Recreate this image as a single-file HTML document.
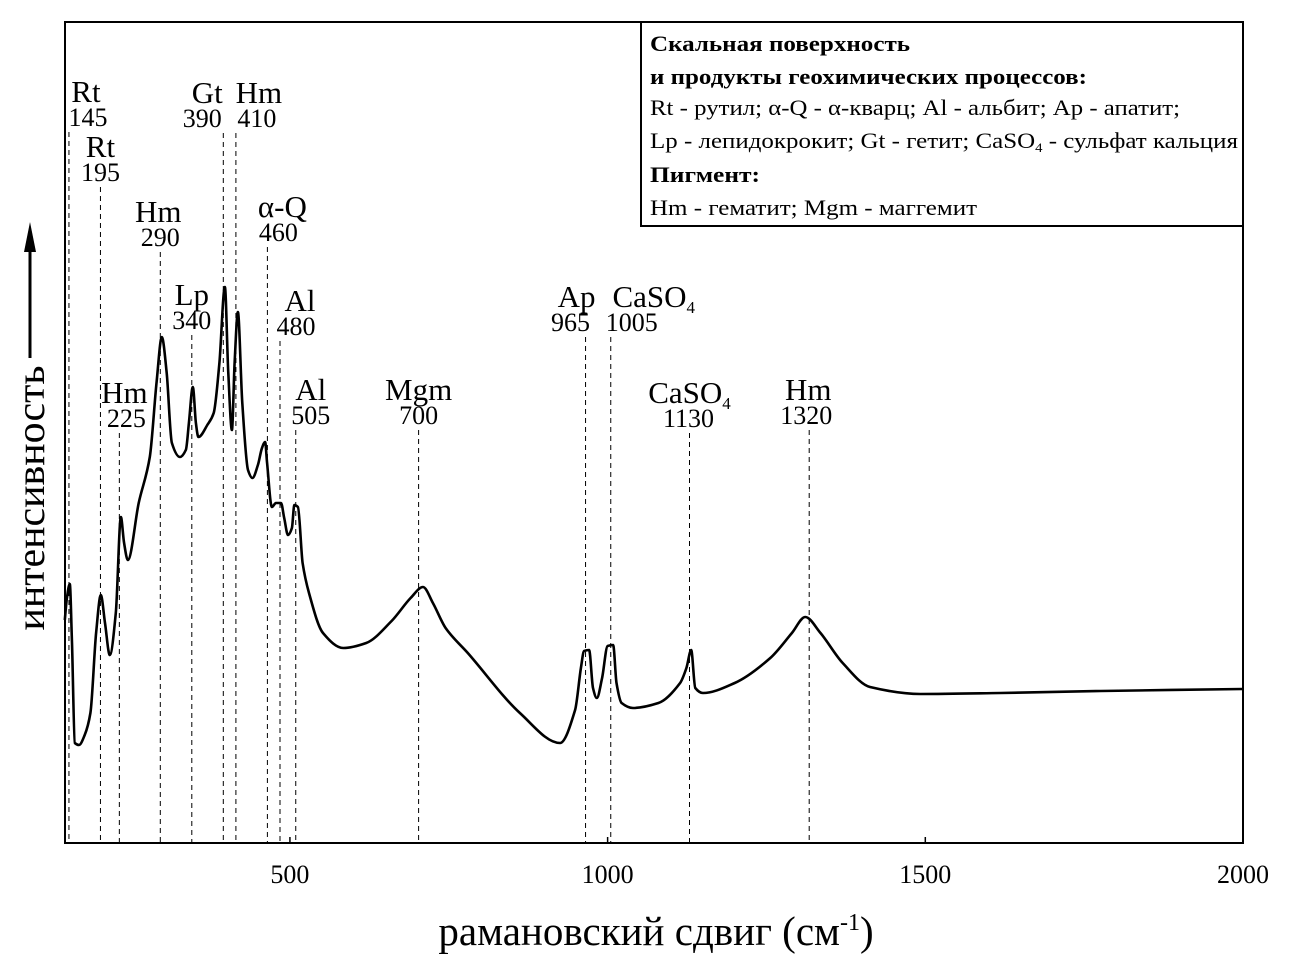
<!DOCTYPE html>
<html><head><meta charset="utf-8"><style>
html,body{margin:0;padding:0;background:#fff;}
svg{display:block;font-family:"Liberation Serif","DejaVu Serif",serif;}
</style></head><body>
<svg id="chart" width="1289" height="972" viewBox="0 0 1289 972">
<g id="labels"></g>
<g id="dashes"></g>
<path id="curve" fill="none" stroke="#000" stroke-width="2.6" stroke-linejoin="round"/>
<rect x="65" y="22" width="1178" height="821" fill="none" stroke="#000" stroke-width="2"/>
<g id="xticks"></g>
<text x="656" y="945" font-size="41" text-anchor="middle">рамановский сдвиг (см<tspan font-size="24" dy="-15">-1</tspan><tspan dy="15">)</tspan></text>
<g>
<text transform="translate(44,498) rotate(-90)" font-size="40" text-anchor="middle" textLength="265" lengthAdjust="spacingAndGlyphs">интенсивность</text>
<line x1="30" y1="358" x2="30" y2="250" stroke="#000" stroke-width="3"/>
<polygon points="30,222 24,252 36,252" fill="#000"/>
</g>
<g>
<rect x="641" y="22" width="602" height="204" fill="#fff" stroke="#000" stroke-width="2"/>
<text x="650" y="51" font-size="22" font-weight="bold" textLength="260" lengthAdjust="spacingAndGlyphs">Скальная поверхность</text>
<text x="650" y="84" font-size="22" font-weight="bold" textLength="437" lengthAdjust="spacingAndGlyphs">и продукты геохимических процессов:</text>
<text x="650" y="115" font-size="22" textLength="530" lengthAdjust="spacingAndGlyphs">Rt - рутил; α-Q - α-кварц; Al - альбит; Ap - апатит;</text>
<text x="650" y="148" font-size="22" textLength="588" lengthAdjust="spacingAndGlyphs">Lp - лепидокрокит; Gt - гетит; CaSO<tspan font-size="13" dy="4">4</tspan><tspan dy="-4"> - сульфат кальция</tspan></text>
<text x="650" y="182" font-size="22" font-weight="bold" textLength="110" lengthAdjust="spacingAndGlyphs">Пигмент:</text>
<text x="650" y="215" font-size="22" textLength="327" lengthAdjust="spacingAndGlyphs">Hm - гематит; Mgm - маггемит</text>
</g>
</svg>
<script>
const shifts=[145.7,149,153.5,157,161.4,168,177,186,195,202.4,209,216.5,226,233.9,239,244.9,262,279.5,290,298.4,306,314.2,326.8,336.2,341,347.2,352,356,370,380,389,397.6,403,408.7,413,418.1,425,434,441,449.6,456,461,464,471.7,478,486,491,497,503.1,507,512.6,520,530,552,584,620,660,690,709.4,725,745,780,862,925,948.8,958,963,970.9,977,983,991.3,1000,1008.7,1014,1022,1040,1080,1114,1124,1131.5,1138,1150,1200,1256,1290,1311,1335,1370,1413,1492,1618,1776,2000];
const intensity=[223,245,259,200,100,98,108,130,210,248,220,188,230,326,300,283,340,386,460,506,470,400,386,393,420,456,420,406,418,430,480,556,470,413,480,531,440,373,365,378,395,401,380,336,340,340,325,308,315,338,336,280,250,210,195,200,222,245,256,240,215,190,130,100,133,175,192,193,155,145,165,197,198,160,140,135,140,160,175,193,155,150,160,185,210,226,210,180,156,149,150,152,154];
const tickVals=[500,1000,1500,2000];
const peakNames=["Rt","Rt","Hm","Hm","Lp","Gt","Hm","α-Q","Al","Al","Mgm","Ap","CaSO4","CaSO4","Hm"];
const peakVals=[145,195,225,290,340,390,410,460,480,505,700,965,1005,1130,1320];
const NS="http://www.w3.org/2000/svg";
const X0=146,X1=2000,PX0=65,PX1=1243,PY0=843;
function sx(v){return PX0+(v-X0)*(PX1-PX0)/(X1-X0);}
function sy(v){return PY0-v;}
function mx(v){return -22.4+0.63*v;}
(function(){
 const xs=shifts.map(sx),ys=intensity.map(sy),n=xs.length;
 const d=[],m=new Array(n);
 for(let i=0;i<n-1;i++)d.push((ys[i+1]-ys[i])/(xs[i+1]-xs[i]));
 m[0]=d[0];m[n-1]=d[n-2];
 for(let i=1;i<n-1;i++){m[i]=(d[i-1]*d[i]<=0)?0:2/(1/d[i-1]+1/d[i]);}
 let p="M"+xs[0].toFixed(1)+","+ys[0].toFixed(1);
 for(let i=0;i<n-1;i++){const h=(xs[i+1]-xs[i])/3;
  p+=" C"+(xs[i]+h).toFixed(1)+","+(ys[i]+m[i]*h).toFixed(1)+" "+(xs[i+1]-h).toFixed(1)+","+(ys[i+1]-m[i+1]*h).toFixed(1)+" "+xs[i+1].toFixed(1)+","+ys[i+1].toFixed(1);}
 document.getElementById('curve').setAttribute('d',p);
})();
const xt=document.getElementById('xticks');
tickVals.forEach(v=>{
 const t=document.createElementNS(NS,'text');
 
 
 t.setAttribute('x',sx(v));t.setAttribute('y',883);t.setAttribute('font-size','26');t.setAttribute('text-anchor','middle');
 t.textContent=v;xt.appendChild(t);
 const l=document.createElementNS(NS,'line');
 
 
 l.setAttribute('x1',sx(v));l.setAttribute('x2',sx(v));l.setAttribute('y1',843);l.setAttribute('y2',837);l.setAttribute('stroke','#000');l.setAttribute('stroke-width','1.5');
 xt.appendChild(l);
});
const lay=[[17,102,19],[0,157,0],[5,403,7],[-2,222,0],[0,305,0],[-16,103,-21],[23,103,21],[15,217,11],[20,311,16],[15,400,15],[0,400,0],[-9,307,-15],[43,307,21],[0,403,-1],[-1,400,-3]];
const lg=document.getElementById('labels'),dg=document.getElementById('dashes');
peakVals.forEach((v,i)=>{
 const x=mx(v),[dx,by,vdx]=lay[i];
 const a=document.createElementNS(NS,'text');
 
 
 a.setAttribute('x',x+dx);a.setAttribute('y',by);a.setAttribute('font-size','31');a.setAttribute('text-anchor','middle');
 if(peakNames[i]==="CaSO4"){a.innerHTML='CaSO<tspan font-size="17" dy="6">4</tspan>';}else a.textContent=peakNames[i];
 lg.appendChild(a);
 const b=document.createElementNS(NS,'text');
 
 
 b.setAttribute('x',x+vdx);b.setAttribute('y',by+24);b.setAttribute('font-size','26');b.setAttribute('text-anchor','middle');
 b.textContent=v;lg.appendChild(b);
 const l=document.createElementNS(NS,'line');
 
 
 l.setAttribute('x1',x);l.setAttribute('x2',x);l.setAttribute('y1',by+30);l.setAttribute('y2',843);
 l.setAttribute('stroke','#000');l.setAttribute('stroke-width','1');l.setAttribute('stroke-dasharray','5,4');
 dg.appendChild(l);
});
</script>
</body></html>
